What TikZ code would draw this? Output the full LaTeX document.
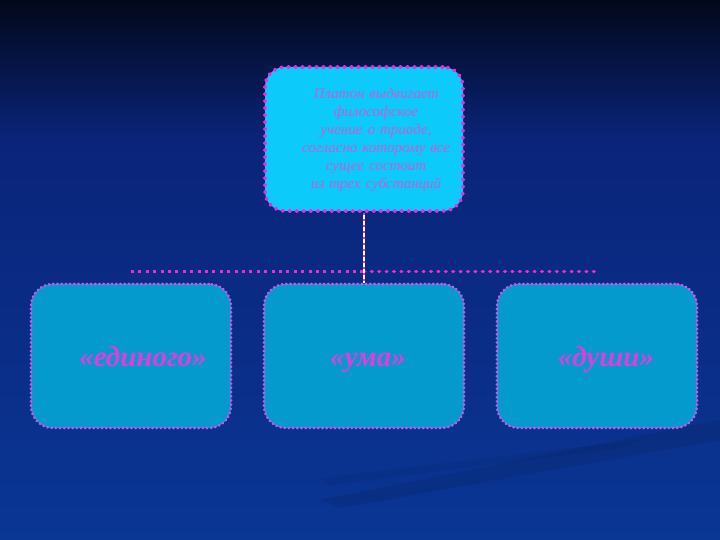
\documentclass[tikz,border=0pt]{standalone}
\usepackage{fontspec}
\setmainfont{Liberation Serif}
\usetikzlibrary{shapes.geometric, arrows}
\definecolor{slidetop}{RGB}{2,8,26}
\definecolor{slidemid}{RGB}{10,36,122}
\definecolor{slidebot}{RGB}{10,54,148}
\definecolor{boxcyan}{RGB}{12,202,250}
\definecolor{boxteal}{RGB}{4,154,206}
\definecolor{dotpink}{RGB}{242,40,222}
\definecolor{dotlilac}{RGB}{205,84,236}
\definecolor{textlilac}{RGB}{192,96,214}
\definecolor{textpink}{RGB}{222,62,222}
\tikzstyle{thesis} = [rectangle, rounded corners=20pt, minimum width=198pt, minimum height=144pt, fill=boxcyan, draw=dotpink, line width=3.6pt, dash pattern=on 1pt off 6pt, line cap=round]
\tikzstyle{thesistext} = [text width=180pt, align=center, text=textlilac, font=\itshape\fontsize{15}{18}\selectfont]
\tikzstyle{part} = [rectangle, rounded corners=22pt, minimum width=200pt, minimum height=144pt, fill=boxteal, draw=dotlilac, line width=2.6pt, dash pattern=on 0.6pt off 3.6pt, line cap=round, text=textpink, text height=25pt, text depth=4pt, font=\bfseries\itshape\fontsize{29}{32}\selectfont]
\tikzstyle{stem} = [draw=white, line width=2pt]
\tikzstyle{stemdots} = [draw=dotpink, line width=2.4pt, dash pattern=on 2pt off 4pt]
\tikzstyle{bar} = [draw=dotpink, line width=3.4pt, dash pattern=on 3pt off 4.4pt]

\begin{document}
\begin{tikzpicture}[x=1pt, y=1pt, node distance=233pt]
		% slide background
		\useasboundingbox (0,0) rectangle (720,540);
		\shade [top color=slidemid, bottom color=slidebot] (0,0) rectangle (720,400);
		\shade [top color=slidetop, bottom color=slidemid] (0,399.5) rectangle (720,540);
		\fill [black, opacity=0.08] (720,120) -- (720,100) -- (340,32) -- (320,40) -- cycle;
		\fill [black, opacity=0.05] (640,100) -- (620,92) -- (330,55) -- (320,62) -- cycle;
		% boxes
		\node (plato) [thesis] at (364,401) {};
		\node (platotext) [thesistext] at ([xshift=12pt, yshift=-1pt]plato.center) {Платон выдвигает\\ философское\\ учение о триаде,\\ согласно которому все\\ сущее состоит\\ из трех субстанций};
		\node (uma) [part] at (364,184) {\hspace*{8pt}«ума»};
		\node (edinogo) [part, left of=uma] {\hspace*{24pt}«единого»};
		\node (dushi) [part, right of=uma] {\hspace*{18pt}«души»};
		% connectors
		\coordinate (barl) at ([yshift=11pt]edinogo.north);
		\coordinate (barm) at ([yshift=11pt]uma.north);
		\coordinate (barr) at ([yshift=11pt]dushi.north);
		\draw [bar, line cap=butt] (barl) -- (barm);
		\draw [bar, line cap=round, dash pattern=on 0.8pt off 6.6pt] (barm) -- (barr);
		\draw [stem] (plato.south) -- (uma.north);
		\draw [stemdots] (plato.south) -- (uma.north);
\end{tikzpicture}
\end{document}
